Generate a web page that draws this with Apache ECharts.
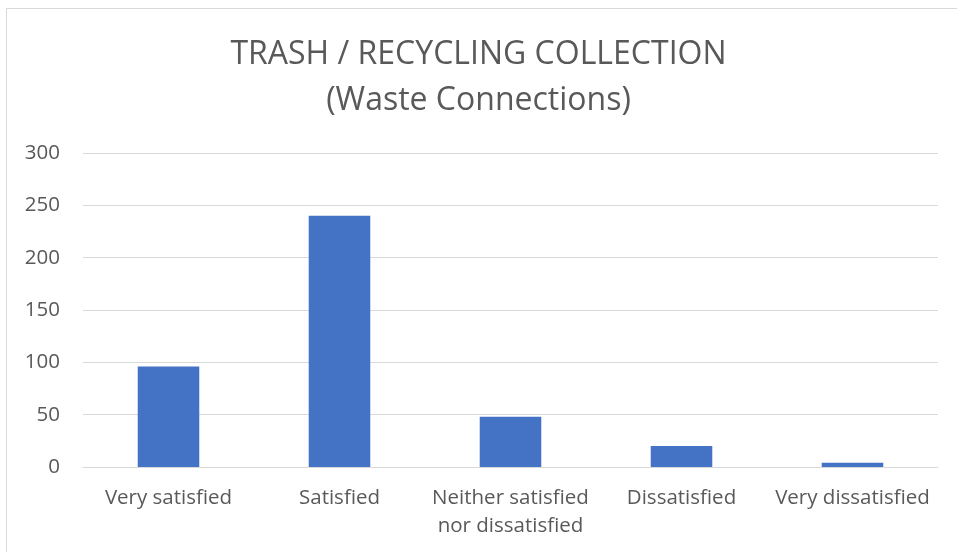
<!DOCTYPE html>
<html>
<head>
<meta charset="UTF-8">
<title>Trash / Recycling Collection</title>
<script src="https://cdn.jsdelivr.net/npm/echarts@6/dist/echarts.min.js"></script>
<style>
  html, body { margin: 0; padding: 0; background: #fff; overflow: hidden; }
  #frame { position: absolute; left: 6px; top: 8px; width: 1000px; height: 600px; border: 1px solid #d9d9d9; }
  #main { position: absolute; left: 0; top: 0; width: 957px; height: 552px; }
</style>
</head>
<body>
<div id="frame"></div>
<div id="main"></div>
<script type="text/javascript">
  // data
  var categories = ['Very satisfied', 'Satisfied', 'Neither satisfied nor dissatisfied', 'Dissatisfied', 'Very dissatisfied'];
  var responses = [96, 240, 48, 20, 4];
  var yTicks = [0, 50, 100, 150, 200, 250, 300];

  var myChart = echarts.init(document.getElementById('main'));
  var textColor = '#595959';
  var font = '"Open Sans", "Noto Sans", sans-serif';

  var option = {
    animation: false,
    title: {
      text: 'TRASH / RECYCLING COLLECTION\n(Waste Connections)',
      left: 'center',
      top: 27,
      textStyle: {
        color: textColor,
        fontFamily: font,
        fontSize: 32,
        fontWeight: 'normal',
        lineHeight: 46
      }
    },
    grid: { left: 83, right: 19, top: 153, bottom: 85, containLabel: false },
    xAxis: {
      type: 'category',
      data: categories,
      axisLine: { lineStyle: { color: '#d9d9d9', width: 1 } },
      axisTick: { show: false },
      axisLabel: {
        color: textColor,
        fontFamily: font,
        fontSize: 20.5,
        lineHeight: 28,
        margin: 17,
        interval: 0,
        formatter: function (v) { return v.replace(' nor ', '\nnor '); }
      }
    },
    yAxis: {
      type: 'value',
      min: yTicks[0],
      max: yTicks[yTicks.length - 1],
      interval: yTicks[1] - yTicks[0],
      axisLine: { show: false },
      axisTick: { show: false },
      splitLine: { lineStyle: { color: '#d9d9d9', width: 1 } },
      axisLabel: { color: textColor, fontFamily: font, fontSize: 20.5, margin: 23 }
    },
    series: [{
      type: 'bar',
      data: responses,
      barWidth: '36%',
      itemStyle: { color: '#4472C4' }
    }]
  };
  myChart.setOption(option);
</script>
</body>
</html>
